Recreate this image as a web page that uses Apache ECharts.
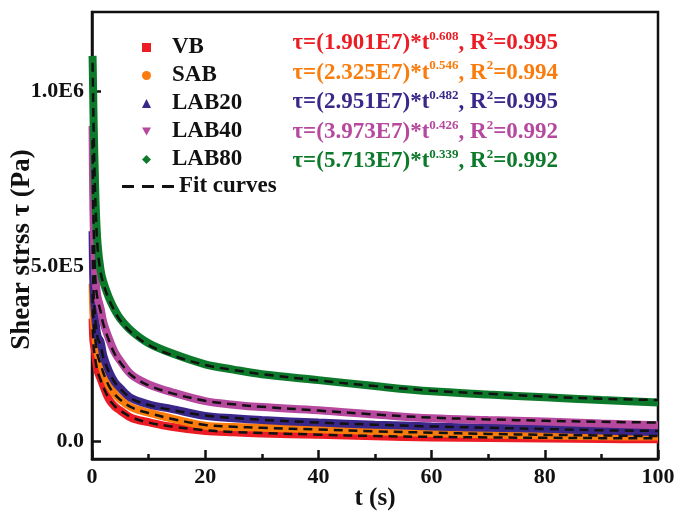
<!DOCTYPE html>
<html><head><meta charset="utf-8">
<script src="https://cdn.jsdelivr.net/npm/echarts@6/dist/echarts.min.js"></script>
<style>html,body{margin:0;padding:0;background:#fff}#c{width:674px;height:511px}</style>
</head><body><div id="c"></div>
<script>
// time (s)
const tValues = [0.1,0.2,0.3,0.5,0.7,1,1.5,2,3,4,5,7,10,14,20,25,30,40,50,60,70,80,90,100];
// measured shear stress (Pa)
const vb    = [350000,300000,280000,262000,230000,200000,180000,158000,120000,100000,88000,67000,55000,42000,30000,26000,23000,19000,15000,11500,10000,8500,7000,6000];
const sab   = [450000,385000,350000,315000,282000,250000,228000,200000,160000,136000,120000,97000,82000,66000,45000,41000,39000,35000,29000,24000,20000,17000,15000,14000];
const lab20 = [600000,480000,430000,372000,330000,300000,285000,245000,200000,170000,152000,123000,106000,93000,73000,66000,61000,54000,48000,43000,39000,36000,31000,27000];
const lab40 = [900000,720000,620000,500000,445000,410000,380000,340000,293000,255000,230000,190000,163000,141000,115000,105000,98000,89000,77000,66000,61000,57000,51000,46000];
const lab80 = [1100000,1000000,900000,760000,650000,560000,490000,455000,410000,376000,350000,315000,280000,252000,220000,205000,192000,175000,158000,143000,134000,126000,118000,111000];
// fit curves (Pa)
const fitVB    = [320000,290000,268000,245000,222000,198000,176000,155000,122000,101000,88000,69000,54000,43000,32000,27000,24000,19500,15500,13000,11500,10500,9500,9000];
const fitSAB   = [420000,370000,340000,305000,275000,245000,222000,196000,158000,135000,119000,97000,81000,65000,47000,42000,39000,34000,29000,25000,21500,19000,17000,15500];
const fitLAB20 = [560000,470000,420000,365000,328000,295000,275000,240000,198000,169000,150000,122000,104000,90000,74000,67000,62000,54000,48000,43000,39000,35500,32000,30000];
const fitLAB40 = [860000,700000,610000,495000,440000,405000,372000,335000,288000,250000,225000,188000,160000,138000,116000,106000,99000,88000,77000,68000,63000,59000,56000,54000];
const fitLAB80 = [1080000,980000,880000,740000,640000,550000,485000,450000,405000,372000,345000,310000,275000,247000,218000,204000,192000,174000,158000,145000,136000,128000,122000,118000];

const names = ['VB','SAB','LAB20','LAB40','LAB80'];
const colors = ['#ec1c24','#f97c0c','#3a2789','#b6489e','#0d7a2b'];
const icons = ['rect','circle','triangle','path://M0,0L10,0L5,9Z','diamond'];
const dataSets = [vb, sab, lab20, lab40, lab80];
const fitSets = [fitVB, fitSAB, fitLAB20, fitLAB40, fitLAB80];
const eqCoef = ['1.901E7','2.325E7','2.951E7','3.973E7','5.713E7'];
const eqExp = ['0.608','0.546','0.482','0.426','0.339'];
const eqR2 = ['0.995','0.994','0.995','0.992','0.992'];
const yTicks = [0, 500000, 1000000];
const yTickLabels = ['0.0','5.0E5','1.0E6'];

const FF = 'Liberation Serif';
const pair = arr => arr.map((v,i)=>[tValues[i], v]);

const series = [];
dataSets.forEach((d,i)=>{
  series.push({
    name: names[i], type:'line', data: pair(d), smooth: 0.35,
    symbol:'none', z: 2,
    itemStyle:{color: colors[i]},
    lineStyle:{color: colors[i], width: 8},
    emphasis:{disabled:true}
  });
});
fitSets.forEach((d,i)=>{
  series.push({
    name:'Fit curves', type:'line', data: pair(d), smooth: 0.35,
    symbol:'none', z: 3,
    itemStyle:{color:'#111'},
    lineStyle:{color:'#111', width:2.5, type:[9,6]},
    emphasis:{disabled:true}
  });
});

const graphics = eqCoef.map((c,i)=>({
  type:'text', right: 674-558, top: 30 + i*29.6, z: 10,
  style:{
    text: '{n|τ=(' + c + ')*t}{s|' + eqExp[i] + '}{n|, R}{s|2}{n|=' + eqR2[i] + '}',
    fill: colors[i],
    rich:{
      n:{fontFamily:FF, fontWeight:'bold', fontSize:23, lineHeight:26, fill: colors[i]},
      s:{fontFamily:FF, fontWeight:'bold', fontSize:13, lineHeight:14, verticalAlign:'top', fill: colors[i]}
    }
  }
}));

const chart = echarts.init(document.getElementById('c'), null, {renderer:'canvas'});
chart.setOption({
  animation:false,
  backgroundColor:'#fff',
  grid:{left:92, right:16, top:12, bottom:52, outerBoundsMode:'none', containLabel:false,
    show:true, borderColor:'#111', borderWidth:2.5, backgroundColor:'transparent'},
  legend:[{
    orient:'vertical', left:137, top:31, itemWidth:9, itemHeight:9, itemGap:5,
    selectedMode:false,
    data: names.map((n,i)=>({name:n, icon: icons[i]})),
    textStyle:{fontFamily:FF, fontWeight:'bold', fontSize:23, color:'#111', padding:[0,0,0,16], lineHeight:23}
  },{
    orient:'vertical', left:117, top:170, itemWidth:52, itemHeight:3,
    selectedMode:false,
    data:[{name:'Fit curves', icon:'path://M0,0h12v3h-12z M20,0h12v3h-12z M40,0h12v3h-12z'}],
    textStyle:{fontFamily:FF, fontWeight:'bold', fontSize:23, color:'#111', lineHeight:23}
  }],
  xAxis:{
    type:'value', min:0, max:100, interval:20,
    name:'t (s)', nameLocation:'middle', nameGap:27, nameMoveOverlap:false,
    nameTextStyle:{fontFamily:FF, fontWeight:'bold', fontSize:25, color:'#111'},
    axisLine:{show:true, onZero:false, lineStyle:{color:'#111', width:2.5}},
    axisTick:{show:true, inside:true, length:9, lineStyle:{color:'#111', width:2.5}},
    minorTick:{show:true, splitNumber:2, length:5, lineStyle:{color:'#111', width:2.5}},
    splitLine:{show:false},
    axisLabel:{fontFamily:FF, fontWeight:'bold', fontSize:22, color:'#111', margin:7}
  },
  yAxis:{
    type:'value', min:-50000, max:1225000,
    name:'Shear strss τ (Pa)', nameLocation:'middle', nameGap:56, nameRotate:90, nameMoveOverlap:false,
    nameTextStyle:{fontFamily:FF, fontWeight:'bold', fontSize:27, color:'#111', padding:[0,28,0,0]},
    axisLine:{show:true, onZero:false, lineStyle:{color:'#111', width:2.5}},
    axisTick:{show:true, inside:true, length:9, customValues: yTicks, lineStyle:{color:'#111', width:2.5}},
    splitLine:{show:false},
    axisLabel:{fontFamily:FF, fontWeight:'bold', fontSize:22, color:'#111', margin:8,
      customValues: yTicks,
      formatter: v => { const k = yTicks.indexOf(v); return k>=0 ? yTickLabels[k] : ''; }}
  },
  graphic: graphics,
  series: series
});
</script></body></html>
